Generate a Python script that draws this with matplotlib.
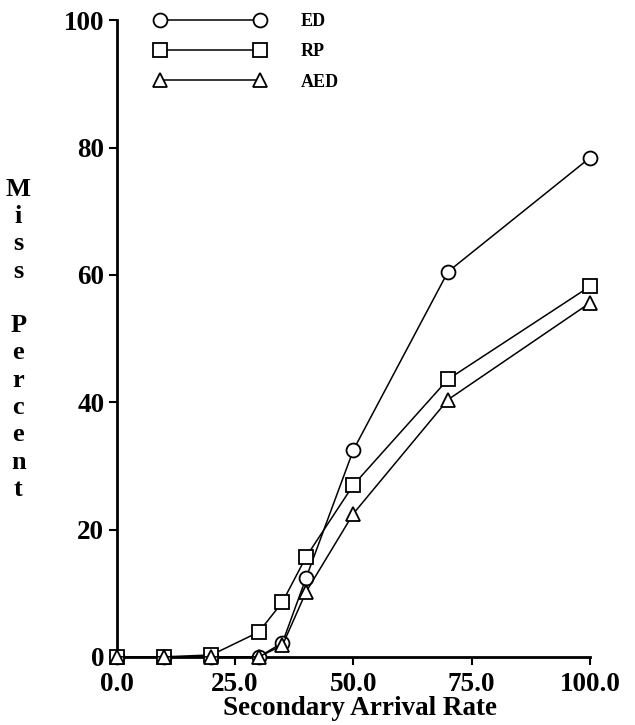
import matplotlib
matplotlib.use("Agg")
import matplotlib.pyplot as plt

x_rate = [0, 10, 20, 30, 35, 40, 50, 70, 100]
ed = [0, 0, 0, 0, 2.2, 12.4, 32.5, 60.5, 78.4]
rp = [0, 0, 0.3, 3.9, 8.6, 15.7, 27.0, 43.6, 58.2]
aed = [0, 0, 0, 0, 1.8, 10.2, 22.5, 40.4, 55.6]
x_ticks = [0, 25, 50, 75, 100]
x_ticklabels = ["0.0", "25.0", "50.0", "75.0", "100.0"]
y_ticks = [0, 20, 40, 60, 80, 100]
ylabel_text = "M\ni\ns\ns\n\nP\ne\nr\nc\ne\nn\nt"

plt.rcParams['font.family'] = ['Liberation Serif', 'DejaVu Serif']
plt.rcParams['font.weight'] = 'bold'

fig = plt.figure(figsize=(6.35, 7.25), dpi=100)
ax = fig.add_axes([0.184, 0.094, 0.745, 0.878])

common = dict(color='black', lw=1.1, markerfacecolor='white', markeredgecolor='black',
              markeredgewidth=1.3, markersize=10, clip_on=False)
ax.plot(x_rate, ed, marker='o', label='ED', zorder=3, **common)
ax.plot(x_rate, rp, marker='s', label='RP', zorder=3, **common)
ax.plot(x_rate, aed, marker='^', label='AED', zorder=3, **common)

ax.set_xlim(0, 100)
ax.set_ylim(0, 100)
ax.set_xticks(x_ticks)
ax.set_xticklabels(x_ticklabels)
ax.set_yticks(y_ticks)
for s in ['top', 'right']:
    ax.spines[s].set_visible(False)
for s in ['left', 'bottom']:
    ax.spines[s].set_linewidth(2.0)
ax.tick_params(axis='both', direction='out', length=6, width=1.5, labelsize=19.5)
ax.tick_params(axis='x', pad=5)
ax.tick_params(axis='y', pad=3)
for lab in ax.get_xticklabels() + ax.get_yticklabels():
    lab.set_fontweight('bold')

fig.text(0.567, 0.006, "Secondary Arrival Rate", fontsize=19.5, fontweight='bold',
         ha='center', va='bottom')
fig.text(0.029, 0.532, ylabel_text, fontsize=19, fontweight='bold', ha='center', va='center',
         linespacing=1.24)

leg = ax.legend(loc='upper left', bbox_to_anchor=(0.045, 1.037), frameon=False, numpoints=2,
                handlelength=6.15, handletextpad=1.95, labelspacing=0.74, fontsize=13)
for t in leg.get_texts():
    t.set_fontweight('bold')

fig.savefig("out.png", dpi=100)
